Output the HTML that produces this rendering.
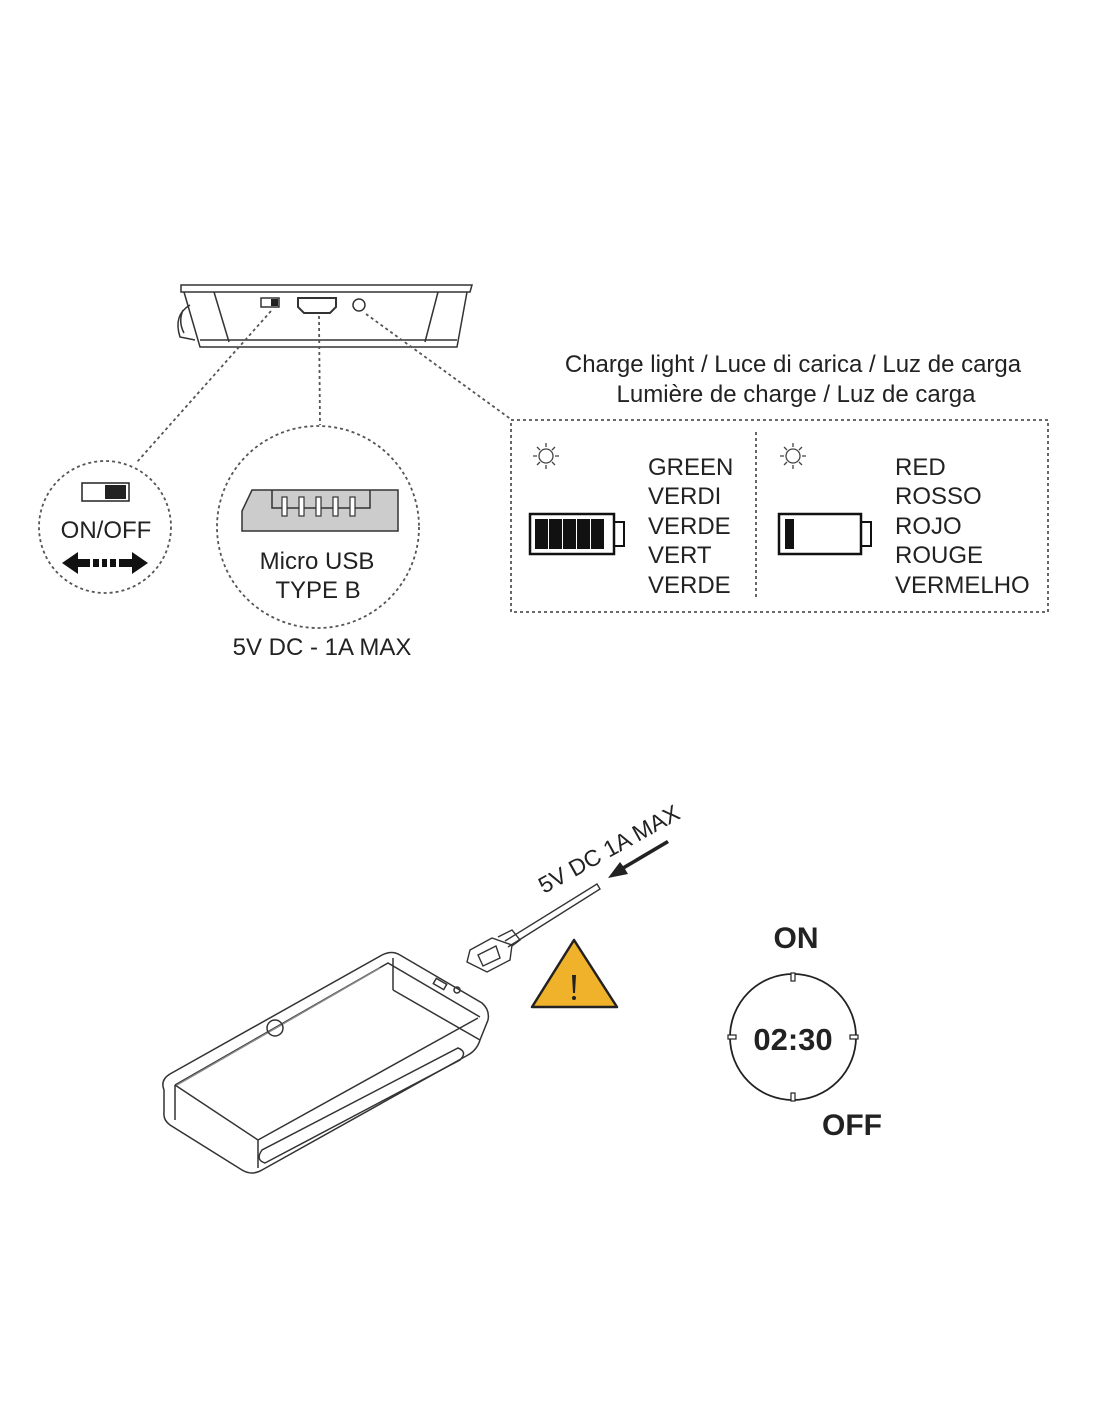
<!DOCTYPE html>
<html><head><meta charset="utf-8"><style>
html,body{margin:0;padding:0;background:#fff;}
svg{display:block;}
text{font-family:"Liberation Sans",sans-serif;fill:#222;}
</style></head><body>
<svg width="1100" height="1422" viewBox="0 0 1100 1422" xmlns="http://www.w3.org/2000/svg">
<!-- top device side view -->
<g fill="none" stroke="#333" stroke-width="1.5">
  <path d="M181,285 L472,285 L470,292 L181,292 Z"/>
  <path d="M184,292 L200,347 L457,347 L467,292"/>
  <path d="M200,340 L457,340"/>
  <path d="M214,292 L229,342"/>
  <path d="M438,292 L425,342"/>
  <path d="M190,305 Q173,315 180,337 L195,340"/>
  <path d="M183,310 Q178,322 184,333"/>
  <rect x="261" y="298" width="18" height="9"/>
  <path d="M298,298 L336,298 L336,307 L330,313 L304,313 L298,307 Z" stroke-width="2"/>
  <circle cx="359" cy="305" r="6"/>
</g>
<rect x="271" y="299" width="7" height="7" fill="#222"/>
<!-- dotted leaders -->
<g fill="none" stroke="#555" stroke-width="1.8" stroke-dasharray="3,3">
  <path d="M271,311 L137,462"/>
  <path d="M319,316 L320,425"/>
  <path d="M366,314 L512,420"/>
  <circle cx="105" cy="527" r="66"/>
  <circle cx="318" cy="527" r="101"/>
  <rect x="511" y="420" width="537" height="192"/>
  <path d="M756,432 L756,600"/>
</g>
<!-- on/off circle -->
<rect x="82" y="483" width="47" height="18" fill="#fff" stroke="#222" stroke-width="1.5"/>
<rect x="105" y="485" width="21" height="14" fill="#222"/>
<text x="106" y="538" font-size="24" text-anchor="middle">ON/OFF</text>
<g fill="#111">
  <path d="M62,563 L78,552 L78,559 L90,559 L90,567 L78,567 L78,574 Z"/>
  <rect x="93" y="559" width="6" height="8"/><rect x="102" y="559" width="5" height="8"/><rect x="110" y="559" width="6" height="8"/>
  <path d="M148,563 L132,552 L132,559 L119,559 L119,567 L132,567 L132,574 Z"/>
</g>
<!-- micro usb -->
<path d="M242,511 L252,490 L398,490 L398,511 L398,531 L242,531 Z" fill="#ccc" stroke="#333" stroke-width="1.5"/>
<path d="M272,490 L272,508 L370,508 L370,490" fill="none" stroke="#333" stroke-width="1.5"/>
<g fill="#fff" stroke="#333" stroke-width="1.2">
  <rect x="282" y="497" width="5" height="19"/><rect x="299" y="497" width="5" height="19"/><rect x="316" y="497" width="5" height="19"/><rect x="333" y="497" width="5" height="19"/><rect x="350" y="497" width="5" height="19"/>
</g>
<text x="317" y="569" font-size="24" text-anchor="middle">Micro USB</text>
<text x="318" y="598" font-size="24" text-anchor="middle">TYPE B</text>
<text x="322" y="655" font-size="24" text-anchor="middle">5V DC - 1A MAX</text>
<!-- header -->
<text x="793" y="372" font-size="24" text-anchor="middle">Charge light / Luce di carica / Luz de carga</text>
<text x="796" y="402" font-size="24" text-anchor="middle">Lumière de charge / Luz de carga</text>
<!-- suns -->
<g fill="none" stroke="#444" stroke-width="1.3">
  <circle cx="546" cy="456" r="7"/>
  <path d="M546,443 L546,447 M546,465 L546,469 M533,456 L537,456 M555,456 L559,456 M537,447 L540,450 M552,462 L555,465 M537,465 L540,462 M552,450 L555,447"/>
  <circle cx="793" cy="456" r="7"/>
  <path d="M793,443 L793,447 M793,465 L793,469 M780,456 L784,456 M802,456 L806,456 M784,447 L787,450 M799,462 L802,465 M784,465 L787,462 M799,450 L802,447"/>
</g>
<!-- batteries -->
<rect x="530" y="514" width="84" height="40" fill="none" stroke="#111" stroke-width="2.5"/>
<rect x="614" y="522" width="10" height="24" fill="none" stroke="#111" stroke-width="2"/>
<g fill="#111"><rect x="535" y="519" width="13" height="30"/><rect x="549" y="519" width="13" height="30"/><rect x="563" y="519" width="13" height="30"/><rect x="577" y="519" width="13" height="30"/><rect x="591" y="519" width="13" height="30"/></g>
<rect x="779" y="514" width="82" height="40" fill="none" stroke="#111" stroke-width="2.5"/>
<rect x="861" y="522" width="10" height="24" fill="none" stroke="#111" stroke-width="2"/>
<rect x="785" y="519" width="9" height="30" fill="#111"/>
<g font-size="24">
<text x="648" y="475">GREEN</text><text x="648" y="504">VERDI</text><text x="648" y="534">VERDE</text><text x="648" y="563">VERT</text><text x="648" y="593">VERDE</text>
<text x="895" y="475">RED</text><text x="895" y="504">ROSSO</text><text x="895" y="534">ROJO</text><text x="895" y="563">ROUGE</text><text x="895" y="593">VERMELHO</text>
</g>
<!-- bottom device -->
<g fill="none" stroke="#333" stroke-width="1.5">
  <path d="M164,1090 Q160,1080 170,1074 L382,955 Q392,950 400,955 L482,1003 Q490,1010 488,1020 L480,1040 Q477,1050 468,1055 L262,1170 Q252,1176 242,1170 L170,1125 Q163,1120 164,1112 Z"/>
  <path d="M175,1085 L388,963 L480,1017"/>
  <path d="M175,1085 L175,1120 M175,1085 L258,1140 L258,1168 M258,1140 L478,1018"/>
  <path d="M393,958 L393,990 M393,990 L480,1040"/>
  <path d="M177,1085 L380,968" stroke="#888"/>
  <path d="M262,1150 Q255,1160 265,1163 L460,1060 Q468,1052 458,1048 Z"/>
  <circle cx="275" cy="1028" r="8"/>
  <rect x="434" y="981" width="12" height="6" transform="rotate(30 440 984)"/>
  <circle cx="457" cy="990" r="3"/>
</g>
<!-- cable and plug -->
<g fill="none" stroke="#333" stroke-width="1.4">
  <path d="M505,941 L597,884 L600,889 L508,947"/>
  <path d="M470,950 L492,938 L512,945 L510,960 L487,972 L467,962 Z"/>
  <path d="M478,955 L496,946 L500,958 L483,966 Z"/>
  <path d="M498,937 L512,930 L520,940 L512,946"/>
</g>
<!-- arrow + label -->
<path d="M669,843 L625,869 L628,874 L608,878 L620,862 L623,866 L667,840 Z" fill="#222"/>
<text x="544" y="894" font-size="23" transform="rotate(-29 544 894)">5V DC 1A MAX</text>
<!-- warning -->
<path d="M574,940 L532,1007 L617,1007 Z" fill="#f0b22a" stroke="#222" stroke-width="2.5" stroke-linejoin="round"/>
<path d="M572,975 L576,975 L575,993 L573,993 Z" fill="#222"/>
<circle cx="574" cy="998" r="2" fill="#222"/>
<!-- clock -->
<text x="796" y="948" font-size="30" font-weight="bold" text-anchor="middle">ON</text>
<circle cx="793" cy="1037" r="63" fill="none" stroke="#222" stroke-width="1.8"/>
<g fill="#fff" stroke="#222" stroke-width="1.2">
  <rect x="791" y="973" width="4" height="8"/><rect x="791" y="1093" width="4" height="8"/>
  <rect x="728" y="1035" width="8" height="4"/><rect x="850" y="1035" width="8" height="4"/>
</g>
<text x="793" y="1050" font-size="31" font-weight="bold" text-anchor="middle">02:30</text>
<text x="852" y="1135" font-size="30" font-weight="bold" text-anchor="middle">OFF</text>
</svg>
</body></html>
